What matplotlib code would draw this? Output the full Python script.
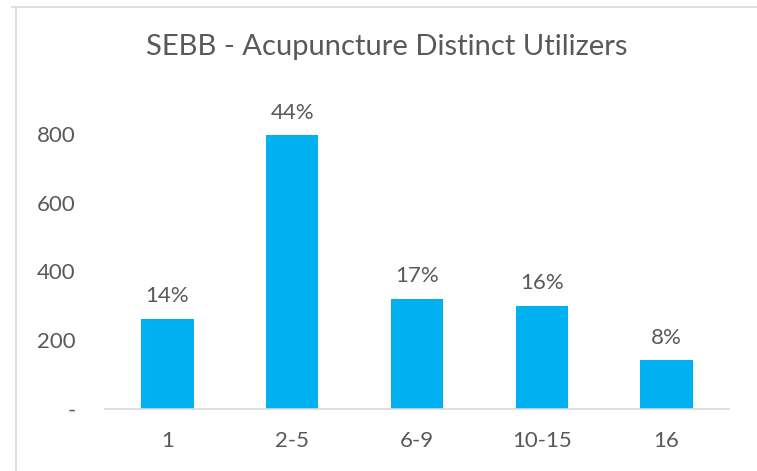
import matplotlib
matplotlib.use('Agg')
import matplotlib.pyplot as plt
from matplotlib.lines import Line2D

categories = ['1', '2-5', '6-9', '10-15', '16']
utilizers = [262, 797, 320, 300, 142]
pct_labels = ['14%', '44%', '17%', '16%', '8%']
y_ticks = [0, 200, 400, 600, 800]
y_tick_labels = ['-', '200', '400', '600', '800']

plt.rcParams['font.family'] = ['Lato', 'DejaVu Sans']
text_color = '#595959'
bar_color = '#00B0F0'

W, H = 757, 471
fig = plt.figure(figsize=(W / 100, H / 100), dpi=100)

# chart frame (only top/left edges visible)
fig.add_artist(Line2D([12 / W, 1], [1 - 7 / H, 1 - 7 / H], color='#D9D9D9', linewidth=1.2))
fig.add_artist(Line2D([16 / W, 16 / W], [0, 1 - 7 / H], color='#D9D9D9', linewidth=1.2))

ax = fig.add_axes([105 / W, 1 - 409 / H, 624 / W, 309.4 / H])
x = range(len(categories))
bars = ax.bar(x, utilizers, width=0.42, color=bar_color)
ax.set_xlim(-0.5, len(categories) - 0.5)
ax.set_ylim(0, 900)

for b, lab in zip(bars, pct_labels):
    ax.annotate(lab, (b.get_x() + b.get_width() / 2, b.get_height()),
                xytext=(0, 9), textcoords='offset points',
                ha='center', va='bottom', fontsize=16, color=text_color)

ax.set_xticks(list(x))
ax.set_xticklabels(categories)
ax.set_yticks(y_ticks)
ax.set_yticklabels(y_tick_labels)
ax.tick_params(axis='both', length=0, labelsize=16, colors=text_color)
ax.tick_params(axis='x', pad=16)
ax.tick_params(axis='y', pad=21)

for side in ['top', 'right', 'left']:
    ax.spines[side].set_visible(False)
ax.spines['bottom'].set_color('#D9D9D9')
ax.spines['bottom'].set_linewidth(1.2)

fig.text(387 / W, 1 - 47 / H, 'SEBB - Acupuncture Distinct Utilizers',
         ha='center', va='center', fontsize=21, color=text_color)

fig.savefig('out.png', dpi=100)
